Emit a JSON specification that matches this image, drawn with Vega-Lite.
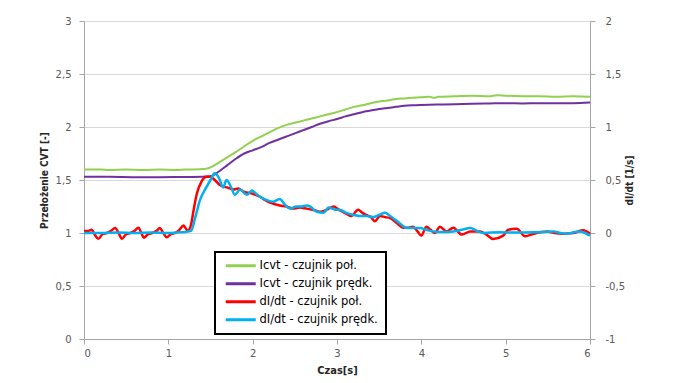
{
  "$schema": "https://vega.github.io/schema/vega-lite/v6.json",
  "width": 506,
  "height": 318,
  "autosize": "none",
  "padding": {"left": 84, "top": 21, "right": 83, "bottom": 44},
  "background": "white",
  "config": {"view": {"stroke": null}, "font": "DejaVu Sans"},
  "datasets": {
    "icvt": [
      {"t": 0, "s": "Icvt - czujnik poł.", "v": 1.6},
      {"t": 0.2, "s": "Icvt - czujnik poł.", "v": 1.6},
      {"t": 0.3, "s": "Icvt - czujnik poł.", "v": 1.595},
      {"t": 0.5, "s": "Icvt - czujnik poł.", "v": 1.6},
      {"t": 0.7, "s": "Icvt - czujnik poł.", "v": 1.595},
      {"t": 0.9, "s": "Icvt - czujnik poł.", "v": 1.6},
      {"t": 1.1, "s": "Icvt - czujnik poł.", "v": 1.595},
      {"t": 1.2, "s": "Icvt - czujnik poł.", "v": 1.6},
      {"t": 1.3, "s": "Icvt - czujnik poł.", "v": 1.6},
      {"t": 1.45, "s": "Icvt - czujnik poł.", "v": 1.605},
      {"t": 1.55, "s": "Icvt - czujnik poł.", "v": 1.64},
      {"t": 1.65, "s": "Icvt - czujnik poł.", "v": 1.69},
      {"t": 1.75, "s": "Icvt - czujnik poł.", "v": 1.74},
      {"t": 1.85, "s": "Icvt - czujnik poł.", "v": 1.79},
      {"t": 2.0, "s": "Icvt - czujnik poł.", "v": 1.87},
      {"t": 2.1, "s": "Icvt - czujnik poł.", "v": 1.91},
      {"t": 2.2, "s": "Icvt - czujnik poł.", "v": 1.95},
      {"t": 2.3, "s": "Icvt - czujnik poł.", "v": 1.99},
      {"t": 2.4, "s": "Icvt - czujnik poł.", "v": 2.02},
      {"t": 2.5, "s": "Icvt - czujnik poł.", "v": 2.04},
      {"t": 2.6, "s": "Icvt - czujnik poł.", "v": 2.06},
      {"t": 2.7, "s": "Icvt - czujnik poł.", "v": 2.08},
      {"t": 2.8, "s": "Icvt - czujnik poł.", "v": 2.1},
      {"t": 2.9, "s": "Icvt - czujnik poł.", "v": 2.12},
      {"t": 3.0, "s": "Icvt - czujnik poł.", "v": 2.14},
      {"t": 3.1, "s": "Icvt - czujnik poł.", "v": 2.165},
      {"t": 3.2, "s": "Icvt - czujnik poł.", "v": 2.19},
      {"t": 3.3, "s": "Icvt - czujnik poł.", "v": 2.205},
      {"t": 3.4, "s": "Icvt - czujnik poł.", "v": 2.225},
      {"t": 3.5, "s": "Icvt - czujnik poł.", "v": 2.24},
      {"t": 3.6, "s": "Icvt - czujnik poł.", "v": 2.25},
      {"t": 3.7, "s": "Icvt - czujnik poł.", "v": 2.265},
      {"t": 3.8, "s": "Icvt - czujnik poł.", "v": 2.27},
      {"t": 3.9, "s": "Icvt - czujnik poł.", "v": 2.275},
      {"t": 4.0, "s": "Icvt - czujnik poł.", "v": 2.28},
      {"t": 4.1, "s": "Icvt - czujnik poł.", "v": 2.285},
      {"t": 4.15, "s": "Icvt - czujnik poł.", "v": 2.275},
      {"t": 4.2, "s": "Icvt - czujnik poł.", "v": 2.285},
      {"t": 4.4, "s": "Icvt - czujnik poł.", "v": 2.29},
      {"t": 4.6, "s": "Icvt - czujnik poł.", "v": 2.295},
      {"t": 4.8, "s": "Icvt - czujnik poł.", "v": 2.29},
      {"t": 4.9, "s": "Icvt - czujnik poł.", "v": 2.3},
      {"t": 5.0, "s": "Icvt - czujnik poł.", "v": 2.295},
      {"t": 5.2, "s": "Icvt - czujnik poł.", "v": 2.29},
      {"t": 5.4, "s": "Icvt - czujnik poł.", "v": 2.29},
      {"t": 5.6, "s": "Icvt - czujnik poł.", "v": 2.285},
      {"t": 5.8, "s": "Icvt - czujnik poł.", "v": 2.29},
      {"t": 6.0, "s": "Icvt - czujnik poł.", "v": 2.285},
      {"t": 0, "s": "Icvt - czujnik prędk.", "v": 1.53},
      {"t": 0.3, "s": "Icvt - czujnik prędk.", "v": 1.53},
      {"t": 0.6, "s": "Icvt - czujnik prędk.", "v": 1.527},
      {"t": 0.9, "s": "Icvt - czujnik prędk.", "v": 1.527},
      {"t": 1.2, "s": "Icvt - czujnik prędk.", "v": 1.528},
      {"t": 1.4, "s": "Icvt - czujnik prędk.", "v": 1.53},
      {"t": 1.5, "s": "Icvt - czujnik prędk.", "v": 1.535},
      {"t": 1.6, "s": "Icvt - czujnik prędk.", "v": 1.58},
      {"t": 1.7, "s": "Icvt - czujnik prędk.", "v": 1.64},
      {"t": 1.8, "s": "Icvt - czujnik prędk.", "v": 1.7},
      {"t": 1.9, "s": "Icvt - czujnik prędk.", "v": 1.75},
      {"t": 2.0, "s": "Icvt - czujnik prędk.", "v": 1.78},
      {"t": 2.1, "s": "Icvt - czujnik prędk.", "v": 1.81},
      {"t": 2.2, "s": "Icvt - czujnik prędk.", "v": 1.85},
      {"t": 2.3, "s": "Icvt - czujnik prędk.", "v": 1.88},
      {"t": 2.4, "s": "Icvt - czujnik prędk.", "v": 1.91},
      {"t": 2.5, "s": "Icvt - czujnik prędk.", "v": 1.94},
      {"t": 2.6, "s": "Icvt - czujnik prędk.", "v": 1.97},
      {"t": 2.7, "s": "Icvt - czujnik prędk.", "v": 2.0},
      {"t": 2.8, "s": "Icvt - czujnik prędk.", "v": 2.03},
      {"t": 2.9, "s": "Icvt - czujnik prędk.", "v": 2.055},
      {"t": 3.0, "s": "Icvt - czujnik prędk.", "v": 2.075},
      {"t": 3.1, "s": "Icvt - czujnik prędk.", "v": 2.1},
      {"t": 3.2, "s": "Icvt - czujnik prędk.", "v": 2.12},
      {"t": 3.3, "s": "Icvt - czujnik prędk.", "v": 2.14},
      {"t": 3.4, "s": "Icvt - czujnik prędk.", "v": 2.155},
      {"t": 3.5, "s": "Icvt - czujnik prędk.", "v": 2.17},
      {"t": 3.6, "s": "Icvt - czujnik prędk.", "v": 2.18},
      {"t": 3.7, "s": "Icvt - czujnik prędk.", "v": 2.19},
      {"t": 3.8, "s": "Icvt - czujnik prędk.", "v": 2.2},
      {"t": 3.9, "s": "Icvt - czujnik prędk.", "v": 2.205},
      {"t": 4.0, "s": "Icvt - czujnik prędk.", "v": 2.208},
      {"t": 4.2, "s": "Icvt - czujnik prędk.", "v": 2.212},
      {"t": 4.4, "s": "Icvt - czujnik prędk.", "v": 2.215},
      {"t": 4.6, "s": "Icvt - czujnik prędk.", "v": 2.22},
      {"t": 4.8, "s": "Icvt - czujnik prędk.", "v": 2.222},
      {"t": 5.0, "s": "Icvt - czujnik prędk.", "v": 2.225},
      {"t": 5.2, "s": "Icvt - czujnik prędk.", "v": 2.222},
      {"t": 5.4, "s": "Icvt - czujnik prędk.", "v": 2.225},
      {"t": 5.6, "s": "Icvt - czujnik prędk.", "v": 2.225},
      {"t": 5.8, "s": "Icvt - czujnik prędk.", "v": 2.225},
      {"t": 6.0, "s": "Icvt - czujnik prędk.", "v": 2.23}
    ],
    "didt": [
      {"t": 0, "s": "dI/dt - czujnik poł.", "v": 0.02},
      {"t": 0.05, "s": "dI/dt - czujnik poł.", "v": 0.02},
      {"t": 0.09, "s": "dI/dt - czujnik poł.", "v": 0.03},
      {"t": 0.13, "s": "dI/dt - czujnik poł.", "v": -0.02},
      {"t": 0.17, "s": "dI/dt - czujnik poł.", "v": -0.055},
      {"t": 0.22, "s": "dI/dt - czujnik poł.", "v": -0.01},
      {"t": 0.27, "s": "dI/dt - czujnik poł.", "v": 0.0},
      {"t": 0.32, "s": "dI/dt - czujnik poł.", "v": 0.02},
      {"t": 0.37, "s": "dI/dt - czujnik poł.", "v": 0.047},
      {"t": 0.41, "s": "dI/dt - czujnik poł.", "v": 0.0},
      {"t": 0.45, "s": "dI/dt - czujnik poł.", "v": -0.055},
      {"t": 0.5, "s": "dI/dt - czujnik poł.", "v": -0.01},
      {"t": 0.55, "s": "dI/dt - czujnik poł.", "v": 0.0},
      {"t": 0.6, "s": "dI/dt - czujnik poł.", "v": 0.02},
      {"t": 0.645, "s": "dI/dt - czujnik poł.", "v": 0.05},
      {"t": 0.68, "s": "dI/dt - czujnik poł.", "v": 0.0},
      {"t": 0.71, "s": "dI/dt - czujnik poł.", "v": -0.045},
      {"t": 0.76, "s": "dI/dt - czujnik poł.", "v": -0.01},
      {"t": 0.81, "s": "dI/dt - czujnik poł.", "v": 0.0},
      {"t": 0.86, "s": "dI/dt - czujnik poł.", "v": 0.02},
      {"t": 0.9, "s": "dI/dt - czujnik poł.", "v": 0.047},
      {"t": 0.94, "s": "dI/dt - czujnik poł.", "v": 0.0},
      {"t": 0.98, "s": "dI/dt - czujnik poł.", "v": -0.04},
      {"t": 1.03, "s": "dI/dt - czujnik poł.", "v": -0.01},
      {"t": 1.08, "s": "dI/dt - czujnik poł.", "v": 0.0},
      {"t": 1.13, "s": "dI/dt - czujnik poł.", "v": 0.03},
      {"t": 1.18, "s": "dI/dt - czujnik poł.", "v": 0.07},
      {"t": 1.23, "s": "dI/dt - czujnik poł.", "v": 0.02},
      {"t": 1.27, "s": "dI/dt - czujnik poł.", "v": 0.08},
      {"t": 1.3, "s": "dI/dt - czujnik poł.", "v": 0.217},
      {"t": 1.34, "s": "dI/dt - czujnik poł.", "v": 0.377},
      {"t": 1.39, "s": "dI/dt - czujnik poł.", "v": 0.48},
      {"t": 1.45, "s": "dI/dt - czujnik poł.", "v": 0.53},
      {"t": 1.5, "s": "dI/dt - czujnik poł.", "v": 0.53},
      {"t": 1.55, "s": "dI/dt - czujnik poł.", "v": 0.5},
      {"t": 1.6, "s": "dI/dt - czujnik poł.", "v": 0.46},
      {"t": 1.65, "s": "dI/dt - czujnik poł.", "v": 0.437},
      {"t": 1.7, "s": "dI/dt - czujnik poł.", "v": 0.43},
      {"t": 1.77, "s": "dI/dt - czujnik poł.", "v": 0.41},
      {"t": 1.83, "s": "dI/dt - czujnik poł.", "v": 0.42},
      {"t": 1.89, "s": "dI/dt - czujnik poł.", "v": 0.39},
      {"t": 1.95, "s": "dI/dt - czujnik poł.", "v": 0.38},
      {"t": 2.0, "s": "dI/dt - czujnik poł.", "v": 0.37},
      {"t": 2.09, "s": "dI/dt - czujnik poł.", "v": 0.34},
      {"t": 2.15, "s": "dI/dt - czujnik poł.", "v": 0.31},
      {"t": 2.2, "s": "dI/dt - czujnik poł.", "v": 0.29},
      {"t": 2.32, "s": "dI/dt - czujnik poł.", "v": 0.26},
      {"t": 2.4, "s": "dI/dt - czujnik poł.", "v": 0.25},
      {"t": 2.48, "s": "dI/dt - czujnik poł.", "v": 0.23},
      {"t": 2.56, "s": "dI/dt - czujnik poł.", "v": 0.24},
      {"t": 2.64, "s": "dI/dt - czujnik poł.", "v": 0.23},
      {"t": 2.72, "s": "dI/dt - czujnik poł.", "v": 0.217},
      {"t": 2.8, "s": "dI/dt - czujnik poł.", "v": 0.2},
      {"t": 2.88, "s": "dI/dt - czujnik poł.", "v": 0.22},
      {"t": 2.96, "s": "dI/dt - czujnik poł.", "v": 0.25},
      {"t": 3.02, "s": "dI/dt - czujnik poł.", "v": 0.22},
      {"t": 3.07, "s": "dI/dt - czujnik poł.", "v": 0.2},
      {"t": 3.17, "s": "dI/dt - czujnik poł.", "v": 0.16},
      {"t": 3.25, "s": "dI/dt - czujnik poł.", "v": 0.22},
      {"t": 3.3, "s": "dI/dt - czujnik poł.", "v": 0.19},
      {"t": 3.35, "s": "dI/dt - czujnik poł.", "v": 0.17},
      {"t": 3.4, "s": "dI/dt - czujnik poł.", "v": 0.15},
      {"t": 3.45, "s": "dI/dt - czujnik poł.", "v": 0.11},
      {"t": 3.51, "s": "dI/dt - czujnik poł.", "v": 0.16},
      {"t": 3.57, "s": "dI/dt - czujnik poł.", "v": 0.15},
      {"t": 3.63, "s": "dI/dt - czujnik poł.", "v": 0.14},
      {"t": 3.7, "s": "dI/dt - czujnik poł.", "v": 0.1},
      {"t": 3.79, "s": "dI/dt - czujnik poł.", "v": 0.05},
      {"t": 3.85, "s": "dI/dt - czujnik poł.", "v": 0.05},
      {"t": 3.9, "s": "dI/dt - czujnik poł.", "v": 0.06},
      {"t": 3.95, "s": "dI/dt - czujnik poł.", "v": 0.02},
      {"t": 4.0, "s": "dI/dt - czujnik poł.", "v": -0.025},
      {"t": 4.06, "s": "dI/dt - czujnik poł.", "v": 0.06},
      {"t": 4.11, "s": "dI/dt - czujnik poł.", "v": 0.03},
      {"t": 4.16, "s": "dI/dt - czujnik poł.", "v": 0.0},
      {"t": 4.22, "s": "dI/dt - czujnik poł.", "v": 0.06},
      {"t": 4.3, "s": "dI/dt - czujnik poł.", "v": 0.015},
      {"t": 4.38, "s": "dI/dt - czujnik poł.", "v": 0.05},
      {"t": 4.48, "s": "dI/dt - czujnik poł.", "v": -0.015},
      {"t": 4.58, "s": "dI/dt - czujnik poł.", "v": 0.015},
      {"t": 4.7, "s": "dI/dt - czujnik poł.", "v": 0.015},
      {"t": 4.78, "s": "dI/dt - czujnik poł.", "v": -0.02},
      {"t": 4.85, "s": "dI/dt - czujnik poł.", "v": -0.057},
      {"t": 4.97, "s": "dI/dt - czujnik poł.", "v": -0.025},
      {"t": 5.03, "s": "dI/dt - czujnik poł.", "v": 0.03},
      {"t": 5.13, "s": "dI/dt - czujnik poł.", "v": 0.04},
      {"t": 5.23, "s": "dI/dt - czujnik poł.", "v": -0.03},
      {"t": 5.33, "s": "dI/dt - czujnik poł.", "v": -0.007},
      {"t": 5.49, "s": "dI/dt - czujnik poł.", "v": 0.015},
      {"t": 5.58, "s": "dI/dt - czujnik poł.", "v": 0.0},
      {"t": 5.68, "s": "dI/dt - czujnik poł.", "v": -0.007},
      {"t": 5.8, "s": "dI/dt - czujnik poł.", "v": 0.0},
      {"t": 5.92, "s": "dI/dt - czujnik poł.", "v": 0.025},
      {"t": 6.0, "s": "dI/dt - czujnik poł.", "v": -0.007},
      {"t": 0, "s": "dI/dt - czujnik prędk.", "v": 0.0},
      {"t": 0.2, "s": "dI/dt - czujnik prędk.", "v": 0.0},
      {"t": 0.4, "s": "dI/dt - czujnik prędk.", "v": 0.005},
      {"t": 0.6, "s": "dI/dt - czujnik prędk.", "v": 0.0},
      {"t": 0.8, "s": "dI/dt - czujnik prędk.", "v": 0.005},
      {"t": 1.0, "s": "dI/dt - czujnik prędk.", "v": 0.0},
      {"t": 1.1, "s": "dI/dt - czujnik prędk.", "v": 0.005},
      {"t": 1.2, "s": "dI/dt - czujnik prędk.", "v": 0.01},
      {"t": 1.27, "s": "dI/dt - czujnik prędk.", "v": 0.02},
      {"t": 1.32, "s": "dI/dt - czujnik prędk.", "v": 0.15},
      {"t": 1.375, "s": "dI/dt - czujnik prędk.", "v": 0.31},
      {"t": 1.455, "s": "dI/dt - czujnik prędk.", "v": 0.437},
      {"t": 1.5, "s": "dI/dt - czujnik prędk.", "v": 0.5},
      {"t": 1.55, "s": "dI/dt - czujnik prędk.", "v": 0.563},
      {"t": 1.6, "s": "dI/dt - czujnik prędk.", "v": 0.52},
      {"t": 1.65, "s": "dI/dt - czujnik prędk.", "v": 0.43},
      {"t": 1.69, "s": "dI/dt - czujnik prędk.", "v": 0.5},
      {"t": 1.74, "s": "dI/dt - czujnik prędk.", "v": 0.44},
      {"t": 1.79, "s": "dI/dt - czujnik prędk.", "v": 0.36},
      {"t": 1.85, "s": "dI/dt - czujnik prędk.", "v": 0.41},
      {"t": 1.93, "s": "dI/dt - czujnik prędk.", "v": 0.36},
      {"t": 1.99, "s": "dI/dt - czujnik prędk.", "v": 0.4},
      {"t": 2.04, "s": "dI/dt - czujnik prędk.", "v": 0.37},
      {"t": 2.09, "s": "dI/dt - czujnik prędk.", "v": 0.34},
      {"t": 2.17, "s": "dI/dt - czujnik prędk.", "v": 0.31},
      {"t": 2.245, "s": "dI/dt - czujnik prędk.", "v": 0.295},
      {"t": 2.32, "s": "dI/dt - czujnik prędk.", "v": 0.32},
      {"t": 2.38, "s": "dI/dt - czujnik prędk.", "v": 0.27},
      {"t": 2.44, "s": "dI/dt - czujnik prędk.", "v": 0.23},
      {"t": 2.52, "s": "dI/dt - czujnik prędk.", "v": 0.25},
      {"t": 2.58, "s": "dI/dt - czujnik prędk.", "v": 0.25},
      {"t": 2.64, "s": "dI/dt - czujnik prędk.", "v": 0.26},
      {"t": 2.68, "s": "dI/dt - czujnik prędk.", "v": 0.25},
      {"t": 2.76, "s": "dI/dt - czujnik prędk.", "v": 0.2},
      {"t": 2.84, "s": "dI/dt - czujnik prędk.", "v": 0.19},
      {"t": 2.9, "s": "dI/dt - czujnik prędk.", "v": 0.24},
      {"t": 2.98, "s": "dI/dt - czujnik prędk.", "v": 0.22},
      {"t": 3.04, "s": "dI/dt - czujnik prędk.", "v": 0.217},
      {"t": 3.11, "s": "dI/dt - czujnik prędk.", "v": 0.19},
      {"t": 3.2, "s": "dI/dt - czujnik prędk.", "v": 0.17},
      {"t": 3.27, "s": "dI/dt - czujnik prędk.", "v": 0.16},
      {"t": 3.35, "s": "dI/dt - czujnik prędk.", "v": 0.16},
      {"t": 3.43, "s": "dI/dt - czujnik prędk.", "v": 0.15},
      {"t": 3.5, "s": "dI/dt - czujnik prędk.", "v": 0.17},
      {"t": 3.57, "s": "dI/dt - czujnik prędk.", "v": 0.19},
      {"t": 3.63, "s": "dI/dt - czujnik prędk.", "v": 0.16},
      {"t": 3.69, "s": "dI/dt - czujnik prędk.", "v": 0.125},
      {"t": 3.76, "s": "dI/dt - czujnik prędk.", "v": 0.08},
      {"t": 3.83, "s": "dI/dt - czujnik prędk.", "v": 0.047},
      {"t": 3.9, "s": "dI/dt - czujnik prędk.", "v": 0.047},
      {"t": 3.98, "s": "dI/dt - czujnik prędk.", "v": 0.047},
      {"t": 4.06, "s": "dI/dt - czujnik prędk.", "v": 0.03},
      {"t": 4.14, "s": "dI/dt - czujnik prędk.", "v": 0.015},
      {"t": 4.26, "s": "dI/dt - czujnik prędk.", "v": 0.01},
      {"t": 4.38, "s": "dI/dt - czujnik prędk.", "v": 0.015},
      {"t": 4.48, "s": "dI/dt - czujnik prędk.", "v": 0.03},
      {"t": 4.58, "s": "dI/dt - czujnik prędk.", "v": 0.047},
      {"t": 4.66, "s": "dI/dt - czujnik prędk.", "v": 0.02},
      {"t": 4.73, "s": "dI/dt - czujnik prędk.", "v": 0.0},
      {"t": 4.83, "s": "dI/dt - czujnik prędk.", "v": 0.005},
      {"t": 4.93, "s": "dI/dt - czujnik prędk.", "v": 0.006},
      {"t": 5.1, "s": "dI/dt - czujnik prędk.", "v": 0.005},
      {"t": 5.33, "s": "dI/dt - czujnik prędk.", "v": 0.006},
      {"t": 5.45, "s": "dI/dt - czujnik prędk.", "v": 0.01},
      {"t": 5.57, "s": "dI/dt - czujnik prędk.", "v": 0.015},
      {"t": 5.65, "s": "dI/dt - czujnik prędk.", "v": 0.0},
      {"t": 5.72, "s": "dI/dt - czujnik prędk.", "v": -0.007},
      {"t": 5.8, "s": "dI/dt - czujnik prędk.", "v": 0.005},
      {"t": 5.88, "s": "dI/dt - czujnik prędk.", "v": 0.015},
      {"t": 5.94, "s": "dI/dt - czujnik prędk.", "v": 0.0},
      {"t": 6.0, "s": "dI/dt - czujnik prędk.", "v": -0.025}
    ]
  },
  "layer": [
    {
      "data": {"name": "icvt"},
      "mark": {"type": "line", "strokeWidth": 2, "interpolate": "monotone"},
      "encoding": {
        "x": {
          "field": "t",
          "type": "quantitative",
          "scale": {"domain": [0, 6], "nice": false, "zero": false},
          "axis": {
            "title": "Czas[s]",
            "values": [0, 1, 2, 3, 4, 5, 6],
            "format": "d",
            "grid": false,
            "domainColor": "#a6a6a6",
            "tickColor": "#a6a6a6",
            "tickSize": 5,
            "labelColor": "#595959",
            "labelFont": "DejaVu Sans",
            "labelFontSize": 10,
            "labelPadding": 4,
            "titleFont": "'DejaVu Sans Condensed', 'Liberation Sans', sans-serif",
            "titleFontSize": 11,
            "titleFontWeight": "bold",
            "titleColor": "#262626",
            "titlePadding": 6
          }
        },
        "y": {
          "field": "v",
          "type": "quantitative",
          "scale": {"domain": [0, 3], "nice": false},
          "axis": {
            "title": "Przełożenie CVT [-]",
            "values": [0, 0.5, 1, 1.5, 2, 2.5, 3],
            "labelExpr": "replace(format(datum.value, '~g'), '.', ',')",
            "grid": true,
            "gridColor": "#d9d9d9",
            "domainColor": "#a6a6a6",
            "tickColor": "#a6a6a6",
            "tickSize": 5,
            "labelColor": "#595959",
            "labelFont": "DejaVu Sans",
            "labelFontSize": 10,
            "labelPadding": 8,
            "titleFont": "'DejaVu Sans Condensed', 'Liberation Sans', sans-serif",
            "titleFontSize": 10,
            "titleFontWeight": "bold",
            "titleColor": "#262626",
            "titlePadding": 6
          }
        },
        "color": {
          "field": "s",
          "type": "nominal",
          "scale": {
            "domain": ["Icvt - czujnik poł.", "Icvt - czujnik prędk.", "dI/dt - czujnik poł.", "dI/dt - czujnik prędk."],
            "range": ["#92D050", "#7030A0", "#FF0000", "#00B0F0"]
          },
          "legend": {
            "title": null,
            "orient": "none",
            "legendX": 131,
            "legendY": 231,
            "symbolType": "M-5,0H5",
            "symbolSize": 36,
            "symbolStrokeWidth": 3,
            "symbolOffset": 12,
            "labelFont": "DejaVu Sans",
            "labelFontSize": 11.5,
            "labelColor": "#000000",
            "labelOffset": 13,
            "rowPadding": 5,
            "padding": 8,
            "strokeColor": "#000000",
            "fillColor": "#ffffff",
            "encode": {"legend": {"update": {"strokeWidth": {"value": 2}}}}
          }
        }
      }
    },
    {
      "data": {"name": "didt"},
      "mark": {"type": "line", "strokeWidth": 2.5, "interpolate": "monotone"},
      "encoding": {
        "x": {"field": "t", "type": "quantitative"},
        "y": {
          "field": "v",
          "type": "quantitative",
          "scale": {"domain": [-1, 2], "nice": false, "zero": false},
          "axis": {
            "orient": "right",
            "title": "dI/dt [1/s]",
            "titleAngle": 270,
            "values": [-1, -0.5, 0, 0.5, 1, 1.5, 2],
            "labelExpr": "(datum.value < 0 ? '-' : '') + replace(format(abs(datum.value), '~g'), '.', ',')",
            "grid": false,
            "domainColor": "#a6a6a6",
            "tickColor": "#a6a6a6",
            "tickSize": 5,
            "labelColor": "#595959",
            "labelFont": "DejaVu Sans",
            "labelFontSize": 10,
            "labelPadding": 10,
            "titleFont": "'DejaVu Sans Condensed', 'Liberation Sans', sans-serif",
            "titleFontSize": 10,
            "titleFontWeight": "bold",
            "titleColor": "#262626",
            "titlePadding": 10
          }
        },
        "color": {"field": "s", "type": "nominal"}
      }
    }
  ],
  "resolve": {"scale": {"y": "independent"}}
}
